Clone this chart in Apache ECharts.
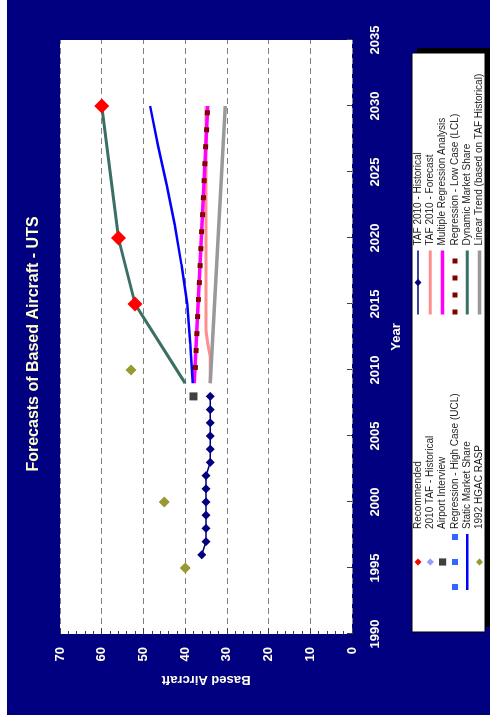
<!DOCTYPE html>
<html>
<head>
<meta charset="utf-8">
<title>Forecasts of Based Aircraft - UTS</title>
<script src="https://cdn.jsdelivr.net/npm/echarts@6/dist/echarts.min.js"></script>
<style>
  html, body { margin: 0; padding: 0; background: #fff; }
  /* the reference is a landscape chart turned on its side */
  #wrap {
    position: absolute; left: 0; top: 0;
    width: 719px; height: 490px;
    transform-origin: 0 0;
    transform: translate(0, 719px) rotate(-90deg);
  }
  #chart { width: 719px; height: 490px; }
</style>
</head>
<body>
<div id="wrap"><div id="chart"></div></div>
<script>
// years on the x axis
const yearTicks = [1990, 1995, 2000, 2005, 2010, 2015, 2020, 2025, 2030, 2035];

// TAF 2010 - Historical
const histYears = [1996, 1997, 1998, 1999, 2000, 2001, 2002, 2003, 2004, 2005, 2006, 2007, 2008];
const tafHistorical = [36, 35, 35, 35, 35, 35, 35, 34, 34, 34, 34, 34, 34];

// TAF 2010 - Forecast
const forecastYears = [2009, 2010, 2011, 2012, 2013, 2015, 2020, 2025, 2030];
const tafForecast = [34, 34, 34, 34.6, 35, 35, 35, 35, 35];

// Multiple Regression Analysis
const mraYears = [2009, 2030];
const mraValues = [37.8, 34.6];

// Regression - Low Case (LCL)
const lclYears = [2010, 2030];
const lclValues = [37.6, 34.6];

// Static Market Share
const staticYears = [2009, 2012, 2015, 2018, 2021, 2024, 2027, 2030];
const staticValues = [38.2, 38.8, 39.5, 40.9, 42.5, 44.4, 46.5, 48.4];

// Dynamic Market Share
const dynamicYears = [2009, 2015, 2020, 2030];
const dynamicValues = [40, 52, 56, 60];

// Linear Trend (based on TAF Historical)
const trendYears = [2009, 2030];
const trendValues = [34, 30.4];

// Recommended
const recYears = [2015, 2020, 2030];
const recValues = [52, 56, 60];

// Airport Interview
const interviewYears = [2008];
const interviewValues = [38];

// 1992 HGAC RASP
const raspYears = [1995, 2000, 2010];
const raspValues = [40, 45, 53];

function pairs(xs, ys) {
  return xs.map((x, i) => [x, ys[i]]);
}

// legend entries: 'line' = plain line, 'mark' = marker only, 'both' = line with marker
const leftNames = ['Recommended', '2010 TAF - Historical', 'Airport Interview',
  'Regression - High Case (UCL)', 'Static Market Share', '1992 HGAC RASP'];
const leftKinds = ['mark', 'mark', 'mark', 'line', 'line', 'mark'];
const rightNames = ['TAF 2010 - Historical', 'TAF 2010 - Forecast', 'Multiple Regression Analysis',
  'Regression - Low Case (LCL)', 'Dynamic Market Share', 'Linear Trend (based on TAF Historical)'];
const rightKinds = ['both', 'line', 'line', 'line', 'line', 'line'];

function legendItems(names, kinds) {
  return names.map((n, i) => {
    if (kinds[i] === 'line') return { name: n, itemStyle: { opacity: 0 } };
    if (kinds[i] === 'mark') return { name: n, lineStyle: { opacity: 0, width: 0 } };
    return { name: n };
  });
}

// marker-only series: a line series whose line is hidden
function markers(name, symbol, size, color, data) {
  return {
    name: name, type: 'line', symbol: symbol, symbolSize: size,
    data: data,
    lineStyle: { opacity: 0, width: 0 },
    itemStyle: { color: color }
  };
}

const font = 'Liberation Sans, Arial, sans-serif';
const pale = '#fffff0';

const myChart = echarts.init(document.getElementById('chart'));

const legendBase = {
  orient: 'vertical',
  top: 413,
  itemHeight: 9,
  itemGap: 2.3,
  itemTextGap: 4,
  selectedMode: false,
  padding: 0,
  textStyle: { fontFamily: font, fontSize: 10, color: '#222', lineHeight: 10 },
  lineStyle: { width: 'inherit' }
};

const option = {
  backgroundColor: '#000080',
  animation: false,
  title: {
    text: 'Forecasts of Based Aircraft - UTS',
    left: 370,
    top: 21,
    textAlign: 'center',
    textStyle: { color: '#ffffcc', fontFamily: font, fontSize: 16, fontWeight: 'bold' }
  },
  grid: {
    left: 85, right: 40, top: 60, bottom: 138,
    show: true, backgroundColor: '#fff', borderWidth: 0
  },
  legend: [
    Object.assign({}, legendBase, { left: 126, itemWidth: 56, data: legendItems(leftNames, leftKinds) }),
    Object.assign({}, legendBase, { left: 402, itemWidth: 64, data: legendItems(rightNames, rightKinds) })
  ],
  xAxis: {
    type: 'value',
    min: yearTicks[0],
    max: yearTicks[yearTicks.length - 1],
    interval: 5,
    name: 'Year',
    nameLocation: 'middle',
    nameGap: 38,
    nameTextStyle: { color: pale, fontFamily: font, fontSize: 13, fontWeight: 'bold' },
    axisLine: { show: false },
    axisTick: { show: true, inside: true, length: 5, lineStyle: { color: '#404040' } },
    axisLabel: {
      color: pale, fontFamily: font, fontSize: 13, fontWeight: 'bold', margin: 17,
      formatter: v => String(v)
    },
    splitLine: { show: false }
  },
  yAxis: {
    type: 'value',
    min: 0,
    max: 70,
    interval: 10,
    name: 'Based Aircraft',
    nameLocation: 'middle',
    nameGap: 39,
    nameTextStyle: { color: pale, fontFamily: font, fontSize: 13, fontWeight: 'bold' },
    axisLine: { show: false },
    axisTick: { show: true, inside: true, length: 6, lineStyle: { color: '#404040' } },
    minorTick: { show: true, splitNumber: 5, length: 3, lineStyle: { color: '#404040' } },
    axisLabel: { color: pale, fontFamily: font, fontSize: 13, fontWeight: 'bold', margin: 13 },
    splitLine: { show: true, lineStyle: { color: '#808080', type: [6, 4], width: 1 } }
  },
  graphic: [
    { type: 'rect', silent: true, shape: { x: 0, y: 0, width: 719, height: 7 }, style: { fill: '#fff' } },
    { type: 'rect', silent: true, shape: { x: 0, y: 0, width: 4, height: 490 }, style: { fill: '#fff' } },
    { type: 'rect', silent: true, shape: { x: 92, y: 417, width: 579, height: 73 }, style: { fill: '#000' } },
    { type: 'rect', silent: true, shape: { x: 87, y: 412, width: 579, height: 73 },
      style: { fill: '#fff', stroke: '#000', lineWidth: 1 } }
  ],
  series: [
    {
      name: 'TAF 2010 - Forecast', type: 'line', symbol: 'none',
      data: pairs(forecastYears, tafForecast),
      lineStyle: { color: '#ff8f8f', width: 3 }, itemStyle: { color: '#ff8f8f' }
    },
    {
      name: 'Linear Trend (based on TAF Historical)', type: 'line', symbol: 'none',
      data: pairs(trendYears, trendValues),
      lineStyle: { color: '#999999', width: 3.5 }, itemStyle: { color: '#999999' }
    },
    {
      name: 'Multiple Regression Analysis', type: 'line', symbol: 'none',
      data: pairs(mraYears, mraValues),
      lineStyle: { color: '#ff00ff', width: 3.5 }, itemStyle: { color: '#ff00ff' }
    },
    {
      name: 'Regression - Low Case (LCL)', type: 'line', symbol: 'none',
      data: pairs(lclYears, lclValues),
      lineStyle: { color: '#800000', width: 5, type: [5, 12] }, itemStyle: { color: '#800000' }
    },
    {
      name: 'Regression - High Case (UCL)', type: 'line', symbol: 'none',
      data: [],
      lineStyle: { color: '#3366ff', width: 6, type: [6, 19] }, itemStyle: { color: '#3366ff' }
    },
    {
      name: 'Static Market Share', type: 'line', symbol: 'none',
      data: pairs(staticYears, staticValues),
      lineStyle: { color: '#0000ff', width: 2.5 }, itemStyle: { color: '#0000ff' }
    },
    {
      name: 'Dynamic Market Share', type: 'line', symbol: 'none',
      data: pairs(dynamicYears, dynamicValues),
      lineStyle: { color: '#3a6f66', width: 3 }, itemStyle: { color: '#3a6f66' }
    },
    {
      name: 'TAF 2010 - Historical', type: 'line', symbol: 'diamond', symbolSize: 9,
      data: pairs(histYears, tafHistorical),
      lineStyle: { color: '#000080', width: 1.5 }, itemStyle: { color: '#000080' }
    },
    markers('2010 TAF - Historical', 'diamond', 8, '#9999ff', []),
    markers('Airport Interview', 'rect', 8, '#404040', pairs(interviewYears, interviewValues)),
    markers('1992 HGAC RASP', 'diamond', 11, '#999933', pairs(raspYears, raspValues)),
    markers('Recommended', 'diamond', 15, '#ff0000', pairs(recYears, recValues))
  ]
};

myChart.setOption(option);
</script>
</body>
</html>
